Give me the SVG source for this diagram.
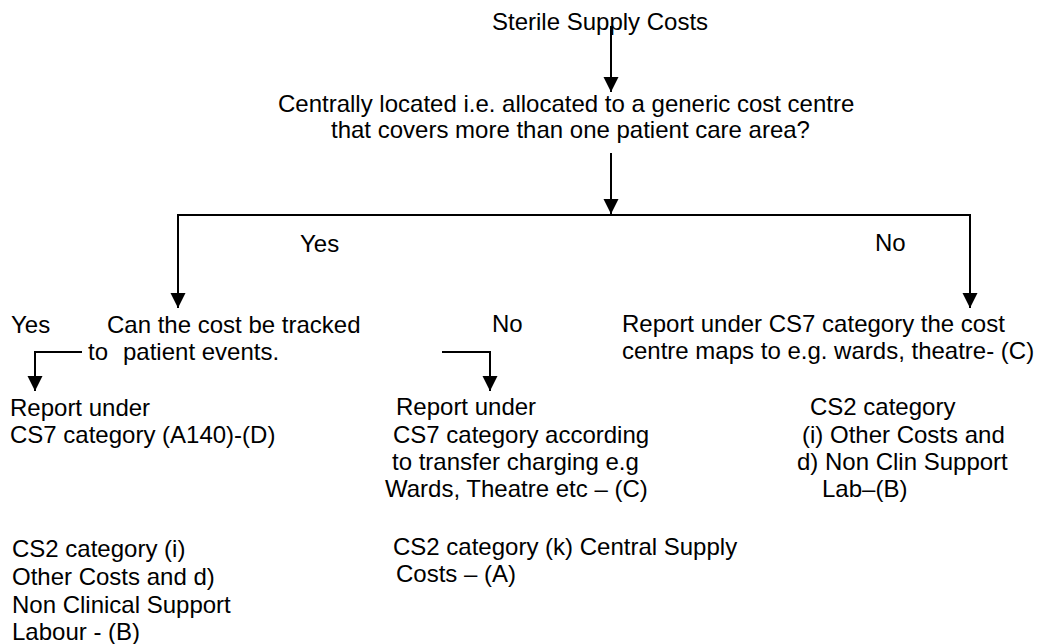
<svg xmlns="http://www.w3.org/2000/svg" width="1037" height="644" viewBox="0 0 1037 644">
<style>
text{font-family:"Liberation Sans",Arial,sans-serif;font-size:24px;fill:#000}
.ln{fill:none;stroke:#000;stroke-width:2}
</style>
<defs>
<marker id="ah" markerUnits="userSpaceOnUse" markerWidth="16" markerHeight="16" refX="15" refY="7.5" orient="auto">
<path d="M0,0 L15,7.5 L0,15 Z" fill="#000"/>
</marker>
</defs>
<rect width="1037" height="644" fill="#fff"/>
<g id="connectors">
<path class="ln" d="M611,26 V92" marker-end="url(#ah)"/>
<path class="ln" d="M611,153 V214"/>
<polygon points="603.5,199 618.5,199 611,214" fill="#000"/>
<path class="ln" d="M178,308 V215 H970 V308" marker-end="url(#ah)"/>
<path class="ln" d="M178,216 V308" marker-end="url(#ah)"/>
<path class="ln" d="M82,352 H35 V391" marker-end="url(#ah)"/>
<path class="ln" d="M442,352 H490 V391" marker-end="url(#ah)"/>
</g>
<g id="n-start"><text x="492" y="30">Sterile Supply Costs</text></g>
<g id="n-question">
<text x="278" y="112">Centrally located i.e. allocated to a generic cost centre</text>
<text x="331" y="138">that covers more than one patient care area?</text>
</g>
<g id="l-yes-top"><text x="300" y="252">Yes</text></g>
<g id="l-no-top"><text x="875" y="251">No</text></g>
<g id="l-yes-left"><text x="11" y="333">Yes</text></g>
<g id="n-track">
<text x="107" y="333">Can the cost be tracked</text>
<text x="88" y="360">to</text>
<text x="123" y="360">patient events.</text>
</g>
<g id="l-no-mid"><text x="492" y="332">No</text></g>
<g id="n-cs7-map">
<text x="622" y="332">Report under CS7 category the cost</text>
<text x="622" y="359">centre maps to e.g. wards, theatre- (C)</text>
</g>
<g id="n-a140">
<text x="10" y="416">Report under</text>
<text x="10" y="443">CS7 category (A140)-(D)</text>
</g>
<g id="n-transfer">
<text x="396" y="415">Report under</text>
<text x="393" y="443">CS7 category according</text>
<text x="392" y="470">to transfer charging e.g</text>
<text x="385" y="497">Wards, Theatre etc – (C)</text>
</g>
<g id="n-cs2-right">
<text x="810" y="415">CS2 category</text>
<text x="802" y="443">(i) Other Costs and</text>
<text x="797" y="470">d) Non Clin Support</text>
<text x="822" y="497">Lab–(B)</text>
</g>
<g id="n-cs2-left">
<text x="12" y="557">CS2 category (i)</text>
<text x="12" y="585">Other Costs and d)</text>
<text x="12" y="613">Non Clinical Support</text>
<text x="12" y="640">Labour - (B)</text>
</g>
<g id="n-cs2-mid">
<text x="393" y="555">CS2 category (k) Central Supply</text>
<text x="396" y="582">Costs – (A)</text>
</g>
</svg>
